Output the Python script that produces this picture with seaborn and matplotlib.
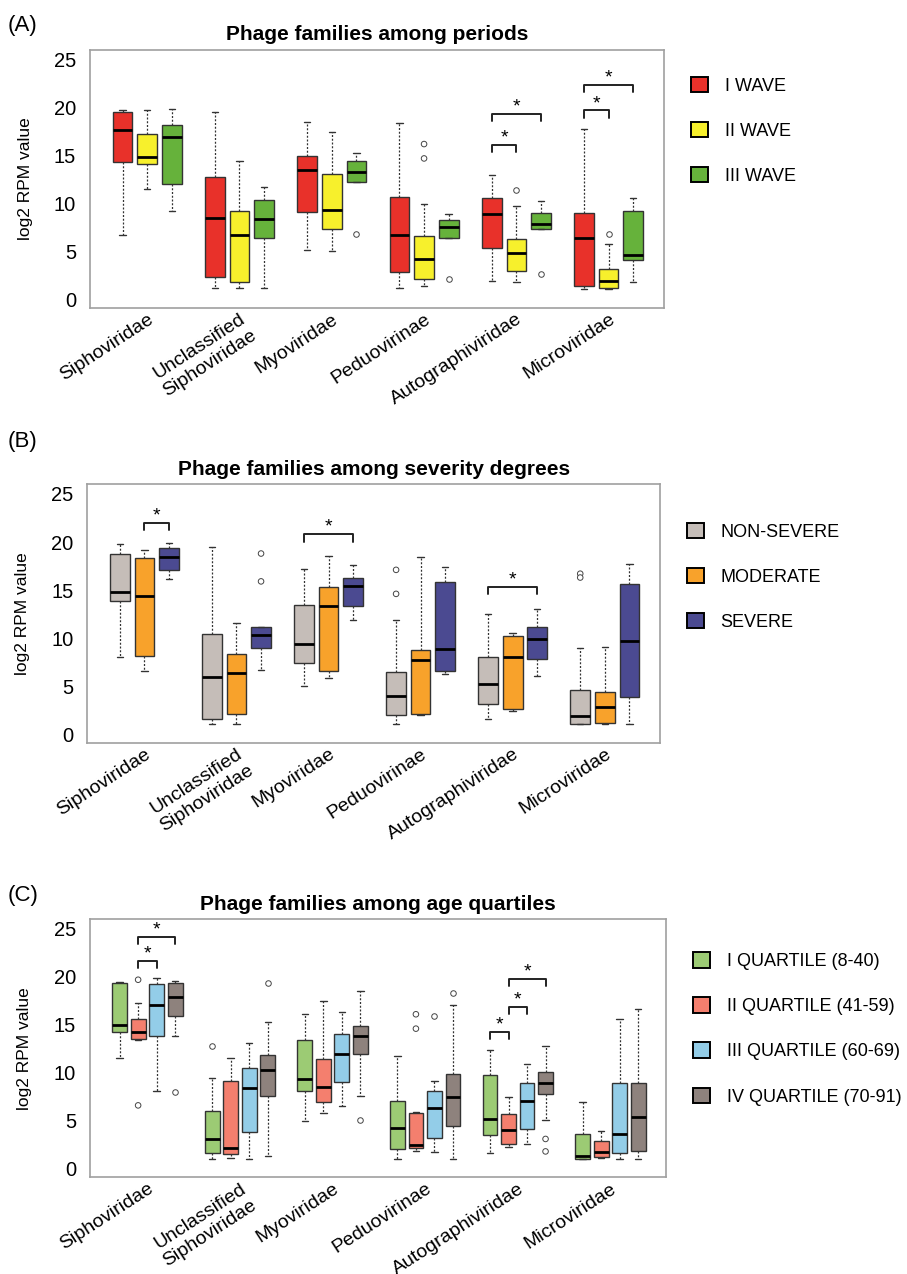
import numpy as np
import pandas as pd
import matplotlib
matplotlib.use('Agg')
import matplotlib.pyplot as plt
import seaborn as sns

# ── data (five-number summaries: whisker low, Q1, median, Q3, whisker high) ──
families = ['Siphoviridae', 'Unclassified\nSiphoviridae', 'Myoviridae',
            'Peduovirinae', 'Autographiviridae', 'Microviridae']

# (A) periods
waves = ['I WAVE', 'II WAVE', 'III WAVE']
wave_colors = ['#E8312A', '#F7F02C', '#66B23B']
wave1 = [[6.7, 14.3, 17.7, 19.5, 19.8],
         [1.2, 2.3, 8.5, 12.8, 19.5],
         [5.2, 9.1, 13.5, 15.0, 18.5],
         [1.2, 2.9, 6.7, 10.7, 18.4],
         [1.9, 5.4, 8.9, 10.6, 13.0],
         [1.1, 1.4, 6.4, 9.0, 17.8]]
wave2 = [[11.5, 14.1, 14.8, 17.3, 19.7],
         [1.2, 1.8, 6.7, 9.2, 14.4],
         [5.0, 7.3, 9.3, 13.1, 17.5],
         [1.4, 2.1, 4.2, 6.6, 10.0],
         [1.8, 3.0, 4.8, 6.3, 9.7],
         [1.1, 1.2, 1.9, 3.2, 5.8]]
wave3 = [[9.2, 12.0, 16.9, 18.2, 19.9],
         [1.2, 6.4, 8.4, 10.4, 11.7],
         [12.2, 12.2, 13.3, 14.4, 15.3],
         [6.4, 6.4, 7.5, 8.3, 8.9],
         [7.3, 7.3, 7.9, 9.0, 10.3],
         [1.8, 4.1, 4.6, 9.2, 10.6]]
# outliers: (family index, value)
wave_outliers = [[],
                 [(3, 16.2), (3, 14.7), (4, 11.4), (5, 6.8)],
                 [(2, 6.8), (3, 2.1), (4, 2.7)]]
# significance brackets: (family index, group a, group b, height)
wave_signif = [(4, 0, 1, 16.1), (4, 0, 2, 19.35), (5, 0, 1, 19.7), (5, 0, 2, 22.4)]

# (B) severity
severity = ['NON-SEVERE', 'MODERATE', 'SEVERE']
severity_colors = ['#C5BDB8', '#F8A22B', '#4B4A91']
nonsevere = [[8.0, 13.9, 14.8, 18.7, 19.8],
             [1.0, 1.6, 5.9, 10.4, 19.5],
             [5.0, 7.4, 9.4, 13.4, 17.2],
             [1.0, 2.0, 4.0, 6.5, 11.9],
             [1.6, 3.1, 5.2, 8.0, 12.5],
             [1.0, 1.1, 1.9, 4.6, 9.0]]
moderate = [[6.6, 8.1, 14.4, 18.3, 19.2],
            [1.0, 2.1, 6.4, 8.3, 11.6],
            [5.8, 6.6, 13.3, 15.3, 18.5],
            [2.0, 2.1, 7.7, 8.8, 18.4],
            [2.4, 2.6, 8.0, 10.2, 10.5],
            [1.0, 1.2, 2.8, 4.4, 9.1]]
severe = [[16.1, 17.1, 18.4, 19.4, 19.9],
          [6.7, 9.0, 10.3, 11.2, 11.2],
          [11.9, 13.3, 15.4, 16.3, 17.6],
          [6.3, 6.6, 8.9, 15.8, 17.4],
          [6.0, 7.8, 9.9, 11.2, 13.0],
          [1.0, 3.9, 9.7, 15.6, 17.7]]
severity_outliers = [[(3, 17.1), (3, 14.6), (5, 16.7), (5, 16.3)],
                     [],
                     [(1, 18.8), (1, 15.9)]]
severity_signif = [(0, 1, 2, 21.95), (2, 0, 2, 20.8), (4, 0, 2, 15.3)]

# (C) age quartiles
quartiles = ['I QUARTILE (8-40)', 'II QUARTILE (41-59)',
             'III QUARTILE (60-69)', 'IV QUARTILE (70-91)']
quartile_colors = ['#9CCB74', '#F47F6E', '#93CDE8', '#8E827D']
q1 = [[11.5, 14.2, 15.0, 19.4, 19.5],
      [1.0, 1.6, 3.1, 6.0, 9.5],
      [5.0, 8.1, 9.4, 13.4, 16.1],
      [1.0, 2.1, 4.2, 7.1, 11.8],
      [1.6, 3.5, 5.2, 9.8, 12.4],
      [1.0, 1.0, 1.3, 3.6, 7.0]]
q2 = [[13.4, 13.5, 14.3, 15.6, 17.3],
      [1.1, 1.5, 2.2, 9.1, 11.5],
      [5.8, 7.0, 8.5, 11.4, 17.5],
      [1.8, 2.2, 2.5, 5.8, 5.9],
      [2.3, 2.6, 4.0, 5.7, 7.5],
      [1.1, 1.2, 1.7, 2.9, 3.9]]
q3 = [[8.1, 13.8, 17.1, 19.3, 19.9],
      [1.0, 3.8, 8.4, 10.5, 13.1],
      [6.5, 9.0, 12.0, 14.0, 16.3],
      [1.7, 3.2, 6.3, 8.1, 9.1],
      [2.6, 4.1, 7.1, 8.9, 10.9],
      [1.0, 1.6, 3.6, 8.9, 15.6]]
q4 = [[13.8, 15.9, 17.9, 19.4, 19.6],
      [1.3, 7.6, 10.3, 11.9, 15.3],
      [7.6, 12.0, 13.8, 14.9, 18.5],
      [1.0, 4.4, 7.5, 9.9, 17.1],
      [5.1, 7.8, 8.9, 10.1, 12.8],
      [1.0, 1.8, 5.4, 8.9, 16.7]]
quartile_outliers = [[(1, 12.8)],
                     [(0, 19.7), (0, 6.6), (3, 16.1), (3, 14.6)],
                     [(3, 15.9)],
                     [(0, 8.0), (1, 19.4), (2, 5.1), (3, 18.3), (4, 3.1), (4, 1.8)]]
quartile_signif = [(0, 1, 2, 21.7), (0, 1, 3, 24.2),
                   (4, 0, 1, 14.3), (4, 1, 2, 16.9), (4, 1, 3, 19.8)]

DODGE = 0.8


def long_frame(groups, stats):
    rows = []
    for grp, grp_stats in zip(groups, stats):
        for fam, five in zip(families, grp_stats):
            for v in five:
                rows.append((fam, grp, v))
    return pd.DataFrame(rows, columns=['family', 'group', 'value'])


def outlier_frame(groups, outliers):
    rows = []
    for grp, pts in zip(groups, outliers):
        for fi, v in pts:
            rows.append((families[fi], grp, v))
    return pd.DataFrame(rows, columns=['family', 'group', 'value'])


def hue_offsets(n):
    each = DODGE / n
    off = np.linspace(0, DODGE - each, n)
    return off - off.mean()


def draw_panel(ax, title, groups, colors, stats, outliers, signif, legend_y):
    df = long_frame(groups, stats)
    pal = dict(zip(groups, colors))
    sns.boxplot(data=df, x='family', y='value', hue='group',
                order=families, hue_order=groups, palette=pal,
                saturation=1, width=DODGE, gap=0.2, whis=(0, 100),
                linecolor='#333333', linewidth=1.0, ax=ax,
                medianprops={'color': 'black', 'linewidth': 2.0},
                whiskerprops={'linestyle': (0, (1.6, 1.4)), 'linewidth': 0.9},
                capprops={'linestyle': '-', 'linewidth': 1.0},
                capwidths=0.07)

    out = outlier_frame(groups, outliers)
    sns.stripplot(data=out, x='family', y='value', hue='group',
                  order=families, hue_order=groups,
                  palette={g: 'white' for g in groups},
                  dodge=True, jitter=False, size=4, linewidth=0.7,
                  edgecolor='#444444', legend=False, ax=ax)

    # significance brackets
    offs = hue_offsets(len(groups))
    for fi, a, b, h in signif:
        xa, xb = fi + offs[a], fi + offs[b]
        ax.plot([xa, xa, xb, xb], [h - 0.75, h, h, h - 0.75],
                color='#222222', lw=1.4, clip_on=False)
        ax.text((xa + xb) / 2, h + 0.25, '*', ha='center', va='baseline',
                fontsize=14, color='black')

    ax.set_xlim(-0.62, 5.6)
    ax.set_ylim(-0.9, 26)
    ax.set_yticks([0, 5, 10, 15, 20, 25])
    ax.set_xticks(range(len(families)))
    ax.set_xticklabels(families, rotation=33, ha='right',
                       rotation_mode='anchor', fontsize=14)
    minor = [fi + o for fi in range(len(families)) for o in offs]
    ax.set_xticks(minor, minor=True)
    ax.tick_params(axis='x', which='major', length=0, pad=2)
    ax.tick_params(axis='x', which='minor', length=4, color='#999999')
    ax.tick_params(axis='y', length=5, color='#999999', labelsize=14.5, pad=5)
    ax.set_xlabel('')
    ax.set_ylabel('log2 RPM value', fontsize=12.5)
    ax.yaxis.set_label_coords(-0.10, 0.5)
    ax.set_title(title, fontsize=15, fontweight='bold', pad=7)
    for sp in ax.spines.values():
        sp.set_visible(True)
        sp.set_color('#a0a0a0')
        sp.set_linewidth(1.2)

    sns.move_legend(ax, 'upper left', bbox_to_anchor=(1.035, legend_y),
                    frameon=False, title=None, fontsize=13,
                    handlelength=0.95, handleheight=0.95,
                    handletextpad=0.9, labelspacing=1.5, borderaxespad=0)
    for h in ax.get_legend().legend_handles:
        h.set_edgecolor('black')
        h.set_linewidth(1.4)


sns.set_style('white')
plt.rcParams['font.family'] = ['Liberation Sans', 'DejaVu Sans']
plt.rcParams['text.color'] = 'black'
plt.rcParams['axes.labelcolor'] = 'black'
plt.rcParams['xtick.labelcolor'] = 'black'
plt.rcParams['ytick.labelcolor'] = 'black'

fig = plt.figure(figsize=(9.07, 12.74), dpi=100)
ax_a = fig.add_axes([0.0992, 0.7582, 0.6329, 0.2025])
ax_b = fig.add_axes([0.0963, 0.4170, 0.6314, 0.2028])
ax_c = fig.add_axes([0.0992, 0.0759, 0.6350, 0.2025])

draw_panel(ax_a, 'Phage families among periods', waves, wave_colors,
           [wave1, wave2, wave3], wave_outliers, wave_signif, 0.925)
draw_panel(ax_b, 'Phage families among severity degrees', severity, severity_colors,
           [nonsevere, moderate, severe], severity_outliers, severity_signif, 0.88)
draw_panel(ax_c, 'Phage families among age quartiles', quartiles, quartile_colors,
           [q1, q2, q3, q4], quartile_outliers, quartile_signif, 0.90)

fig.text(0.008, 1 - 25 / 1274, '(A)', fontsize=16, va='center')
fig.text(0.008, 1 - 441 / 1274, '(B)', fontsize=16, va='center')
fig.text(0.008, 1 - 895 / 1274, '(C)', fontsize=16, va='center')

fig.savefig('out.png', dpi=100)
